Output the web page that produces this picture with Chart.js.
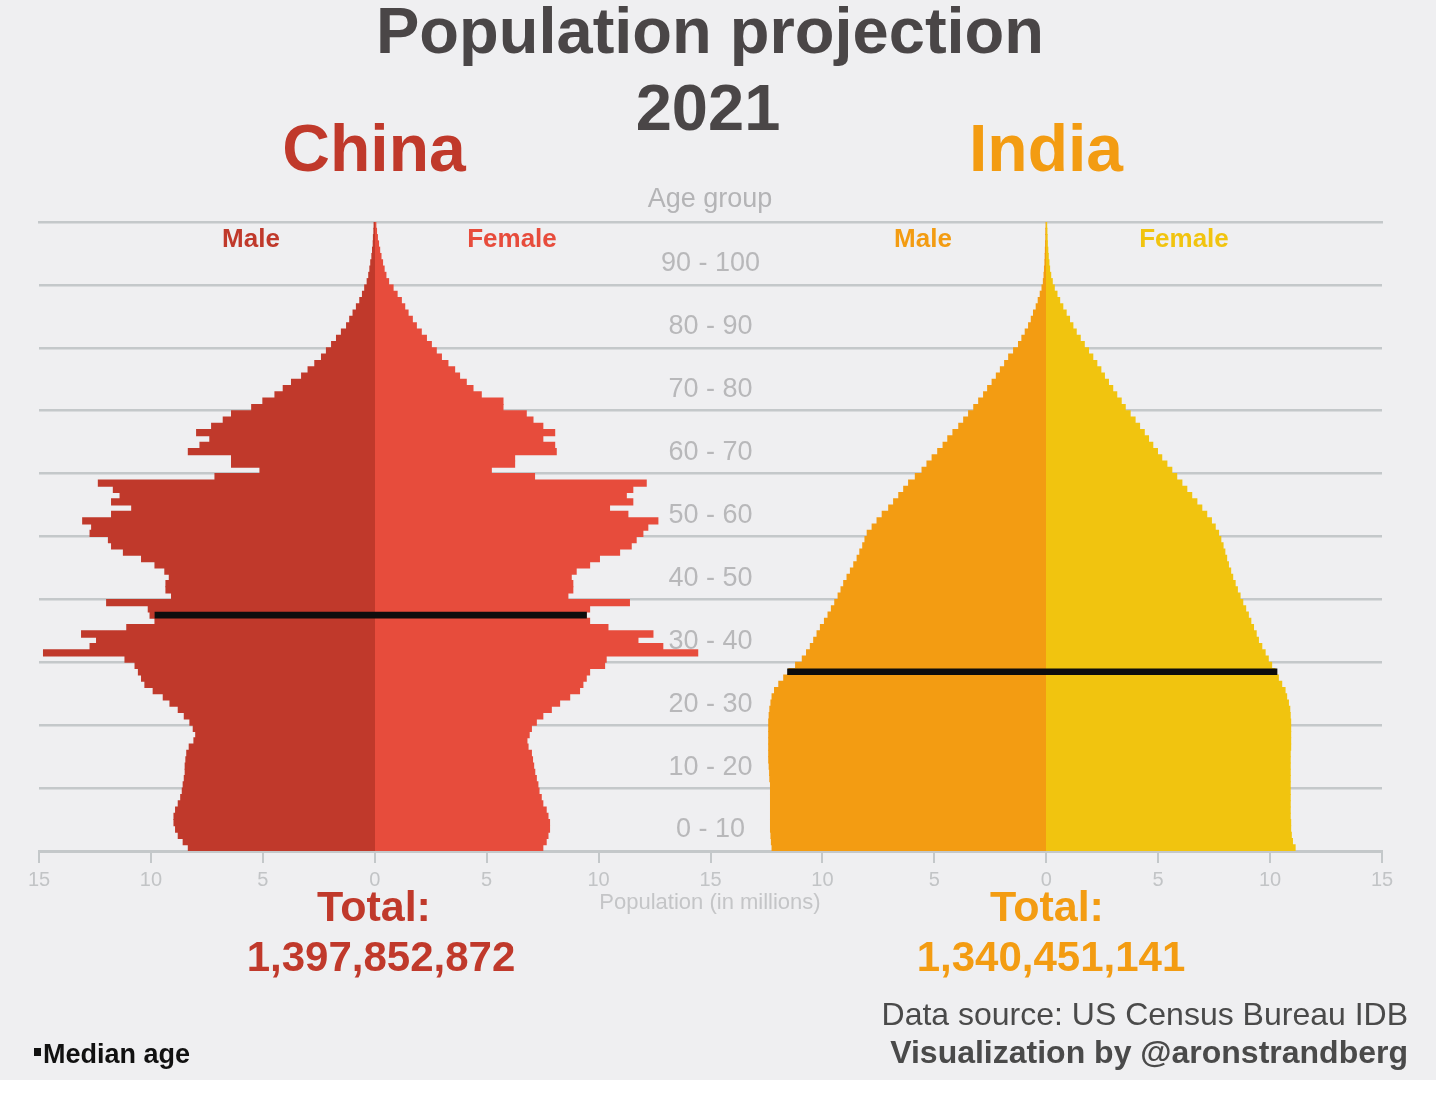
<!DOCTYPE html>
<html>
<head>
<meta charset="utf-8">
<script src="https://cdn.jsdelivr.net/npm/chart.js@4.4.1/dist/chart.umd.min.js"></script>
<style>
  html, body { margin:0; padding:0; background:#ffffff; }
  #page { position:absolute; left:0; top:0; width:1436px; height:1080px; background:#EFEFF1; overflow:hidden; }
  canvas { position:absolute; left:0; top:0; }
  .t { position:absolute; font-family:"Liberation Sans", Arial, sans-serif; white-space:nowrap; line-height:1; }
  .c { transform:translateX(-50%); }
  .r { transform:translateX(-100%); }
</style>
</head>
<body>
<div id="page">
  <canvas id="chart" width="1440" height="1098"></canvas>
  <div class="t c" style="left:710px; top:-2px; font-size:65px; font-weight:bold; color:#4a4647;">Population projection</div>
  <div class="t c" style="left:708px; top:75px; font-size:65px; font-weight:bold; color:#4a4647;">2021</div>
  <div class="t c" style="left:374px; top:115px; font-size:66px; font-weight:bold; color:#C0392B;">China</div>
  <div class="t c" style="left:1046px; top:115px; font-size:66px; font-weight:bold; color:#F39C12;">India</div>
  <div class="t c" style="left:710px; top:185px; font-size:27px; color:#b4b4b6;">Age group</div>
  <div class="t c" style="left:251px; top:225px; font-size:26px; font-weight:bold; color:#C0392B;">Male</div>
  <div class="t c" style="left:512px; top:225px; font-size:26px; font-weight:bold; color:#E74C3C;">Female</div>
  <div class="t c" style="left:923px; top:225px; font-size:26px; font-weight:bold; color:#F39C12;">Male</div>
  <div class="t c" style="left:1184px; top:225px; font-size:26px; font-weight:bold; color:#F1C40F;">Female</div>
  <div class="t c" style="left:710px; top:891px; font-size:22px; color:#c4c5c7;">Population (in millions)</div>
  <div class="t c" style="left:374px; top:885px; font-size:43px; font-weight:bold; color:#C0392B;">Total:</div>
  <div class="t c" style="left:381px; top:936px; font-size:42px; font-weight:bold; color:#C0392B;">1,397,852,872</div>
  <div class="t c" style="left:1047px; top:885px; font-size:43px; font-weight:bold; color:#F39C12;">Total:</div>
  <div class="t c" style="left:1051px; top:936px; font-size:42px; font-weight:bold; color:#F39C12;">1,340,451,141</div>
  <div class="t r" style="left:1408px; top:998px; font-size:32px; color:#4a4a4a;">Data source: US Census Bureau IDB</div>
  <div class="t r" style="left:1408px; top:1036px; font-size:32px; font-weight:bold; color:#4a4a4a;">Visualization by @aronstrandberg</div>
  <div class="t" style="left:34px; top:1041px; font-size:27px; font-weight:bold; color:#111;"><span style="display:inline-block;width:7px;height:8px;background:#111;vertical-align:7px;margin-right:2px;"></span>Median age</div>
</div>
<script>
// Single-year ages 0..99 (bottom to top), population in millions
const ageLabels = [];
for (let a = 0; a < 100; a++) ageLabels.push(String(a));

const ageGroupLabels = ['0 - 10','10 - 20','20 - 30','30 - 40','40 - 50','50 - 60','60 - 70','70 - 80','80 - 90','90 - 100'];

const xTickValues = [-15,-10,-5,0,5,10,15,20,25,30,35,40,45];
const xTickLabels = ['15','10','5','0','5','10','15','10','5','0','5','10','15'];

const chinaMale = [
  8.33,8.56,8.78,8.90,8.97,8.97,8.90,8.78,8.67,8.60,
  8.56,8.51,8.47,8.47,8.44,8.40,8.29,8.08,8.00,8.11,
  8.26,8.51,8.78,9.15,9.45,9.90,10.27,10.42,10.56,10.71,
  11.16,14.80,12.72,12.43,13.10,11.08,9.82,10.04,10.12,11.98,
  9.08,9.33,9.33,9.18,9.38,9.82,10.42,11.23,11.76,11.90,
  12.72,12.65,13.05,11.76,10.86,11.76,11.38,11.68,12.35,7.14,
  5.13,6.40,6.40,8.33,7.81,7.37,7.96,7.29,6.77,6.40,
  5.50,5.00,4.46,4.09,3.72,3.27,2.98,2.68,2.38,2.16,
  1.93,1.71,1.49,1.26,1.12,0.97,0.82,0.67,0.55,0.45,
  0.34,0.27,0.22,0.18,0.13,0.10,0.07,0.06,0.04,0.03
];
const chinaFemale = [
  7.51,7.66,7.74,7.81,7.81,7.74,7.66,7.51,7.44,7.34,
  7.29,7.22,7.15,7.10,7.05,7.00,6.85,6.80,6.90,7.00,
  7.22,7.51,7.89,8.26,8.71,9.15,9.30,9.45,9.60,10.27,
  10.34,14.43,12.87,11.76,12.43,10.42,9.60,9.45,9.60,11.38,
  8.63,8.85,8.85,8.78,9.00,9.60,10.04,10.94,11.46,11.68,
  11.98,12.20,12.65,11.31,10.49,11.53,11.24,11.53,12.13,7.14,
  5.21,6.25,6.25,8.11,8.04,7.51,8.04,7.51,7.07,6.77,
  5.73,5.73,4.76,4.39,4.09,3.79,3.57,3.27,2.98,2.75,
  2.53,2.31,2.08,1.86,1.68,1.49,1.34,1.19,1.00,0.82,
  0.62,0.50,0.42,0.35,0.28,0.22,0.17,0.12,0.08,0.05
];
const indiaMale = [
  12.25,12.28,12.30,12.32,12.32,12.32,12.32,12.32,12.32,12.32,
  12.32,12.35,12.36,12.38,12.40,12.40,12.40,12.40,12.40,12.40,
  12.40,12.38,12.35,12.30,12.25,12.14,11.95,11.73,11.50,11.20,
  10.90,10.71,10.54,10.39,10.24,10.09,9.91,9.75,9.60,9.45,
  9.30,9.17,9.05,8.90,8.75,8.60,8.45,8.33,8.20,8.10,
  8.00,7.78,7.56,7.33,7.04,6.82,6.59,6.37,6.15,5.85,
  5.55,5.33,5.10,4.85,4.61,4.40,4.17,3.91,3.69,3.47,
  3.24,3.02,2.80,2.62,2.42,2.23,2.05,1.86,1.68,1.46,
  1.24,1.09,0.94,0.79,0.67,0.57,0.45,0.36,0.27,0.19,
  0.13,0.10,0.08,0.06,0.05,0.04,0.03,0.02,0.02,0.01
];
const indiaFemale = [
  11.12,11.00,10.95,10.92,10.92,10.90,10.90,10.90,10.90,10.90,
  10.90,10.90,10.90,10.90,10.90,10.90,10.92,10.92,10.92,10.92,
  10.92,10.90,10.88,10.82,10.74,10.67,10.52,10.37,10.22,10.07,
  9.92,9.78,9.63,9.48,9.38,9.26,9.14,9.03,8.91,8.78,
  8.66,8.54,8.44,8.33,8.24,8.14,8.06,7.98,7.90,7.80,
  7.70,7.55,7.38,7.17,6.95,6.73,6.50,6.28,6.06,5.83,
  5.61,5.39,5.16,4.97,4.76,4.57,4.38,4.17,3.97,3.75,
  3.53,3.35,3.15,2.97,2.78,2.60,2.44,2.26,2.08,1.89,
  1.70,1.52,1.34,1.19,1.04,0.89,0.74,0.60,0.48,0.36,
  0.27,0.20,0.15,0.12,0.09,0.07,0.05,0.04,0.03,0.02
];

// Median age markers: age index and extent (male side negative, female side positive)
const chinaMedianAge = 37;
const chinaMedianSpan = [-9.82, 9.46];
const indiaMedianAge = 28;
const indiaMedianSpan = [-11.56, 10.31];

function medianData(ageIdx, span) {
  return ageLabels.map((_, i) => i === ageIdx ? span : null);
}
// one floating bar per age: [-male, female]
function pyramidData(male, female) {
  return male.map((m, i) => [-m, female[i]]);
}

const colors = {
  chinaMale: '#C0392B', chinaFemale: '#E74C3C',
  indiaMale: '#F39C12', indiaFemale: '#F1C40F',
  grid: '#C4C8CA', tick: '#c2c4c6', ageText: '#b8b8ba'
};

// colour split exactly at the zero of the bar's own scale (male left, female right)
function splitFill(scaleId, maleColor, femaleColor) {
  return (c) => {
    const chart = c.chart, area = chart.chartArea;
    if (!area) return maleColor;
    const s = chart.scales[scaleId];
    const z = s.getPixelForValue(0);
    const g = chart.ctx.createLinearGradient(area.left, 0, area.right, 0);
    const f = Math.min(1, Math.max(0, (z - area.left) / (area.right - area.left)));
    g.addColorStop(0, maleColor);
    g.addColorStop(f, maleColor);
    g.addColorStop(f, femaleColor);
    g.addColorStop(1, femaleColor);
    return g;
  };
}

const barBase = { grouped: false, barPercentage: 1, categoryPercentage: 1, borderWidth: 0, inflateAmount: 0.5, order: 1 };

const ageGroupPlugin = {
  id: 'ageGroupLabels',
  afterDatasetsDraw(chart) {
    const ctx = chart.ctx;
    const y = chart.scales.y, x = chart.scales.x;
    ctx.save();
    ctx.font = '27px "Liberation Sans", Arial, sans-serif';
    ctx.fillStyle = colors.ageText;
    ctx.textAlign = 'center';
    ctx.textBaseline = 'middle';
    const cx = x.getPixelForValue(15);
    ageGroupLabels.forEach((lbl, d) => {
      ctx.fillText(lbl, cx, y.getPixelForValue(d * 10 + 3) + 1);
    });
    ctx.restore();
  }
};

new Chart(document.getElementById('chart'), {
  type: 'bar',
  data: {
    labels: ageLabels,
    datasets: [
      Object.assign({ label: 'China', data: pyramidData(chinaMale, chinaFemale),
        backgroundColor: splitFill('x', colors.chinaMale, colors.chinaFemale), xAxisID: 'x' }, barBase),
      Object.assign({ label: 'India', data: pyramidData(indiaMale, indiaFemale),
        backgroundColor: splitFill('x2', colors.indiaMale, colors.indiaFemale), xAxisID: 'x2' }, barBase),
      { label: 'China median', data: medianData(chinaMedianAge, chinaMedianSpan), backgroundColor: '#0d0d0d',
        xAxisID: 'x', grouped: false, barThickness: 6, borderWidth: 0, order: 0 },
      { label: 'India median', data: medianData(indiaMedianAge, indiaMedianSpan), backgroundColor: '#0d0d0d',
        xAxisID: 'x2', grouped: false, barThickness: 6, borderWidth: 0, order: 0 }
    ]
  },
  options: {
    indexAxis: 'y',
    responsive: false,
    animation: false,
    layout: { padding: { left: 39, right: 58, top: 222, bottom: 207 } },
    plugins: { legend: { display: false }, tooltip: { enabled: false }, title: { display: false } },
    scales: {
      y: {
        type: 'category',
        reverse: true,
        ticks: { display: false },
        border: { display: false },
        grid: {
          drawTicks: false,
          lineWidth: 2.5,
          color: (c) => (c.index % 10 === 0 ? colors.grid : 'rgba(0,0,0,0)')
        },
        afterFit: (s) => { s.width = 0; }
      },
      x: {
        type: 'linear',
        position: 'bottom',
        min: -15, max: 45,
        afterBuildTicks: (s) => { s.ticks = xTickValues.map(v => ({ value: v })); },
        ticks: {
          autoSkip: false,
          maxRotation: 0,
          padding: 5,
          color: colors.tick,
          font: { family: '"Liberation Sans", Arial, sans-serif', size: 20 },
          callback: (v) => xTickLabels[xTickValues.indexOf(v)]
        },
        grid: { drawOnChartArea: false, drawTicks: true, tickLength: 12, color: colors.grid, lineWidth: 2 },
        border: { display: true, color: colors.grid, width: 3 },
        afterFit: (s) => { s.height = 40; }
      },
      x2: {
        type: 'linear',
        position: 'top',
        display: true,
        min: -45, max: 15,
        ticks: { display: false },
        grid: { drawOnChartArea: false, drawTicks: false },
        border: { display: true, color: colors.grid, width: 2.5 },
        afterFit: (s) => { s.height = 0; }
      }
    }
  },
  plugins: [ageGroupPlugin]
});
</script>
</body>
</html>
